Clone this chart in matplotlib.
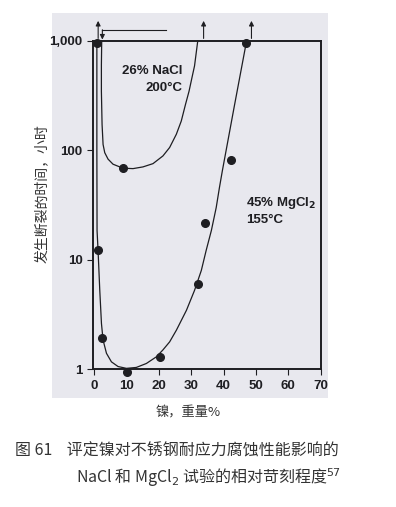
import matplotlib
matplotlib.use("Agg")
import matplotlib.pyplot as plt
from matplotlib.patches import Rectangle
import numpy as np

# ---- data ----
nacl_pts_x = [0.9, 8.9]
nacl_pts_y = [950, 68.6]
mgcl_pts_x = [1.2, 2.4, 10.2, 20.2, 32.0, 34.1, 42.3, 46.8]
mgcl_pts_y = [12.4, 1.94, 0.95, 1.29, 6.0, 21.7, 81, 950]

nacl_curve_x = [2.3, 2.2, 2.2, 2.41, 2.72, 3.24, 4.26, 5.8, 8.89, 11.98, 15.06, 18.15,
                21.23, 23.3, 25.37, 26.9, 28.2, 29.3, 30.2, 31.0, 32.0]
nacl_curve_y = [1000, 600, 346, 172, 113, 95, 83, 74.6, 68.6, 68, 70.5, 75.5,
                88.8, 106, 140, 185, 262, 346, 460, 590, 1000]
mgcl_curve_x = [0.8, 0.8, 0.86, 1.17, 1.7, 2.22, 2.72, 3.77, 5.3, 7.35, 9.94, 13.0,
                16.1, 19.2, 21.2, 23.3, 25.4, 28.5, 31.0, 33.1, 34.6, 36.2, 37.7,
                38.7, 39.6, 43.3, 47.1]
mgcl_curve_y = [1000, 100, 18.5, 12.2, 5.26, 2.62, 1.85, 1.40, 1.17, 1.06, 1.02, 1.04,
                1.13, 1.30, 1.50, 1.78, 2.28, 3.46, 5.26, 8.0, 12.2, 18.5, 30,
                45.7, 65, 253, 1000]

xticks = [0, 10, 20, 30, 40, 50, 60, 70]
yticks = [1, 10, 100, 1000]
yticklabels = ["1", "10", "100", "1,000"]

up_arrow_x = [1.2, 33.8, 48.6]

tick_font = ["Liberation Sans Narrow", "Liberation Sans", "DejaVu Sans"]
cjk_font = ["Noto Sans CJK SC", "DejaVu Sans"]

fig = plt.figure(figsize=(3.96, 5.07), dpi=100)
fig.patch.set_facecolor("white")

panel_color = "#e8e8ee"
fig.patches.append(Rectangle((0.1313, 0.2150), 0.8283 - 0.1313, 0.9744 - 0.2150,
                             transform=fig.transFigure, facecolor=panel_color,
                             edgecolor="none", zorder=-10))

ax = fig.add_axes([0.2348, 0.2716, 0.575, 0.648])
ax.set_zorder(5)
ax.set_facecolor(panel_color)
ax.set_yscale("log")
ax.set_xlim(-0.4, 70)
ax.set_ylim(1, 1000)

ink = "#1e1e22"
ax.plot(nacl_curve_x, nacl_curve_y, color=ink, lw=0.9, clip_on=False,
        solid_joinstyle="round")
ax.plot(mgcl_curve_x, mgcl_curve_y, color=ink, lw=0.9, clip_on=False,
        solid_joinstyle="round")
ax.plot(nacl_pts_x, nacl_pts_y, "o", color=ink, ms=5.5, clip_on=False, zorder=5)
ax.plot(mgcl_pts_x, mgcl_pts_y, "o", color=ink, ms=5.5, clip_on=False, zorder=5)

# arrows above the box
for xa in up_arrow_x:
    ax.annotate("", xy=(xa, 1520), xytext=(xa, 1050), annotation_clip=False,
                arrowprops=dict(arrowstyle="-|>", color=ink, lw=0.8,
                                mutation_scale=7, shrinkA=0, shrinkB=0))
ax.plot([2.5, 22.1], [1260, 1260], color=ink, lw=0.8, clip_on=False)
ax.annotate("", xy=(2.5, 1025), xytext=(2.5, 1260), annotation_clip=False,
            arrowprops=dict(arrowstyle="-|>", color=ink, lw=0.8,
                            mutation_scale=7, shrinkA=0, shrinkB=0))

for s in ax.spines.values():
    s.set_linewidth(1.4)
    s.set_color(ink)

ax.set_xticks(xticks)
ax.set_xticklabels([str(v) for v in xticks])
ax.set_yticks(yticks)
ax.set_yticklabels(yticklabels)
ax.minorticks_off()
ax.tick_params(axis="both", direction="out", length=4.5, width=0.8, color=ink,
               labelsize=9.5, pad=3)
for lab in ax.get_xticklabels() + ax.get_yticklabels():
    lab.set_fontfamily(tick_font)
    lab.set_fontweight("bold")
    lab.set_color(ink)

ax.text(27.3, 530, "26% NaCl", ha="right", va="center", fontsize=9.5,
        fontweight="bold", family=tick_font, color=ink)
ax.text(27.3, 370, "200°C", ha="right", va="center", fontsize=9.5,
        fontweight="bold", family=tick_font, color=ink)
ax.text(46.8, 33, "45% MgCl$_\\mathbf{2}$", ha="left", va="center", fontsize=9.5,
        fontweight="bold", family=tick_font, color=ink)
ax.text(46.8, 23, "155°C", ha="left", va="center", fontsize=9.5,
        fontweight="bold", family=tick_font, color=ink)

fig.text(42 / 396, 1 - 194 / 507, "发生断裂的时间，小时", rotation=90, ha="center",
         va="center", fontsize=10, family=cjk_font, color="#333333")
fig.text(188 / 396, 1 - 413 / 507, "镍，重量%", ha="center", va="center",
         fontsize=9.5, family=cjk_font, color="#333333")
fig.text(15 / 396, 1 - 451 / 507, "图 61    评定镍对不锈钢耐应力腐蚀性能影响的",
         ha="left", va="center", fontsize=11.5, family=cjk_font, color="#333333")
fig.text(76 / 396, 1 - 478 / 507, "NaCl 和 MgCl$_2$ 试验的相对苛刻程度$^{57}$",
         ha="left", va="center", fontsize=11.5, family=cjk_font, color="#333333")

fig.savefig("out.png", dpi=100, facecolor="white")
